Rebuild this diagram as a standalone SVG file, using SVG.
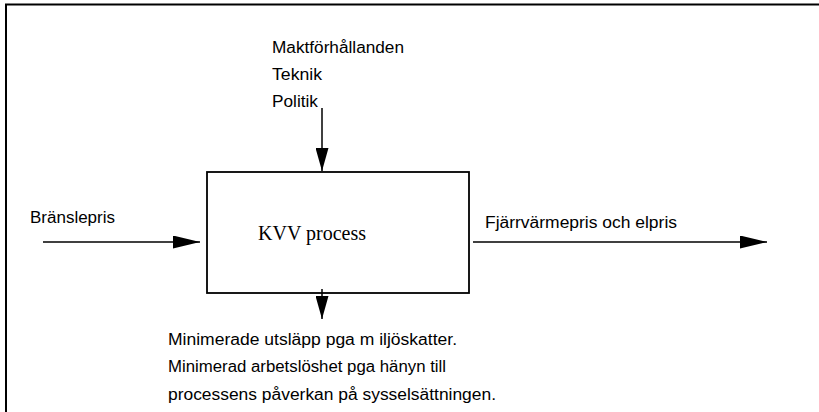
<svg xmlns="http://www.w3.org/2000/svg" width="819" height="412" viewBox="0 0 819 412">
<style>
.t{font-family:"Liberation Sans",Arial,sans-serif;font-size:16px;fill:#000}
.s{font-family:"Liberation Serif","Times New Roman",serif;font-size:20px;fill:#000}
.ln{stroke:#000;stroke-width:1.5;fill:none}
.fr{stroke:#000;stroke-width:2;fill:none}
</style>
<defs>
<marker id="ah" markerWidth="28" markerHeight="13" refX="27" refY="6.5" orient="auto" markerUnits="userSpaceOnUse">
<path d="M0,0 L27,6.5 L0,13 Z" fill="#000"/>
</marker>
<marker id="av" markerWidth="24" markerHeight="13" refX="23" refY="6.5" orient="auto" markerUnits="userSpaceOnUse">
<path d="M0,0 L23,6.5 L0,13 Z" fill="#000"/>
</marker>
</defs>
<rect width="819" height="412" fill="#fff"/>
<path class="fr" d="M6,412 L6,4.5 L819,4.5"/>
<g id="kvv">
<rect x="207" y="172" width="262" height="121" fill="#fff" stroke="#000" stroke-width="1.8"/>
<text class="s" x="258" y="240">KVV process</text>
</g>
<g id="top-label">
<text class="t" x="272" y="53" textLength="132" lengthAdjust="spacingAndGlyphs">Maktförhållanden</text>
<text class="t" x="272" y="80" textLength="50" lengthAdjust="spacingAndGlyphs">Teknik</text>
<text class="t" x="272" y="107" textLength="46" lengthAdjust="spacingAndGlyphs">Politik</text>
</g>
<g id="left-label">
<text class="t" x="30" y="223" textLength="85" lengthAdjust="spacingAndGlyphs">Bränslepris</text>
</g>
<g id="right-label">
<text class="t" x="485" y="228" textLength="192" lengthAdjust="spacingAndGlyphs">Fjärrvärmepris och elpris</text>
</g>
<g id="bottom-label">
<text class="t" x="168" y="345" textLength="289" lengthAdjust="spacingAndGlyphs">Minimerade utsläpp pga m iljöskatter.</text>
<text class="t" x="168" y="372" textLength="278" lengthAdjust="spacingAndGlyphs">Minimerad arbetslöshet pga hänyn till</text>
<text class="t" x="168" y="400" textLength="328" lengthAdjust="spacingAndGlyphs">processens påverkan på sysselsättningen.</text>
</g>
<g id="connectors">
<line class="ln" x1="322" y1="108" x2="322" y2="171" marker-end="url(#av)"/>
<line class="ln" x1="322" y1="289" x2="322" y2="319" marker-end="url(#av)"/>
<line class="ln" x1="43" y1="242" x2="200" y2="242" marker-end="url(#ah)"/>
<line class="ln" x1="473" y1="242" x2="767" y2="242" marker-end="url(#ah)"/>
</g>
</svg>
